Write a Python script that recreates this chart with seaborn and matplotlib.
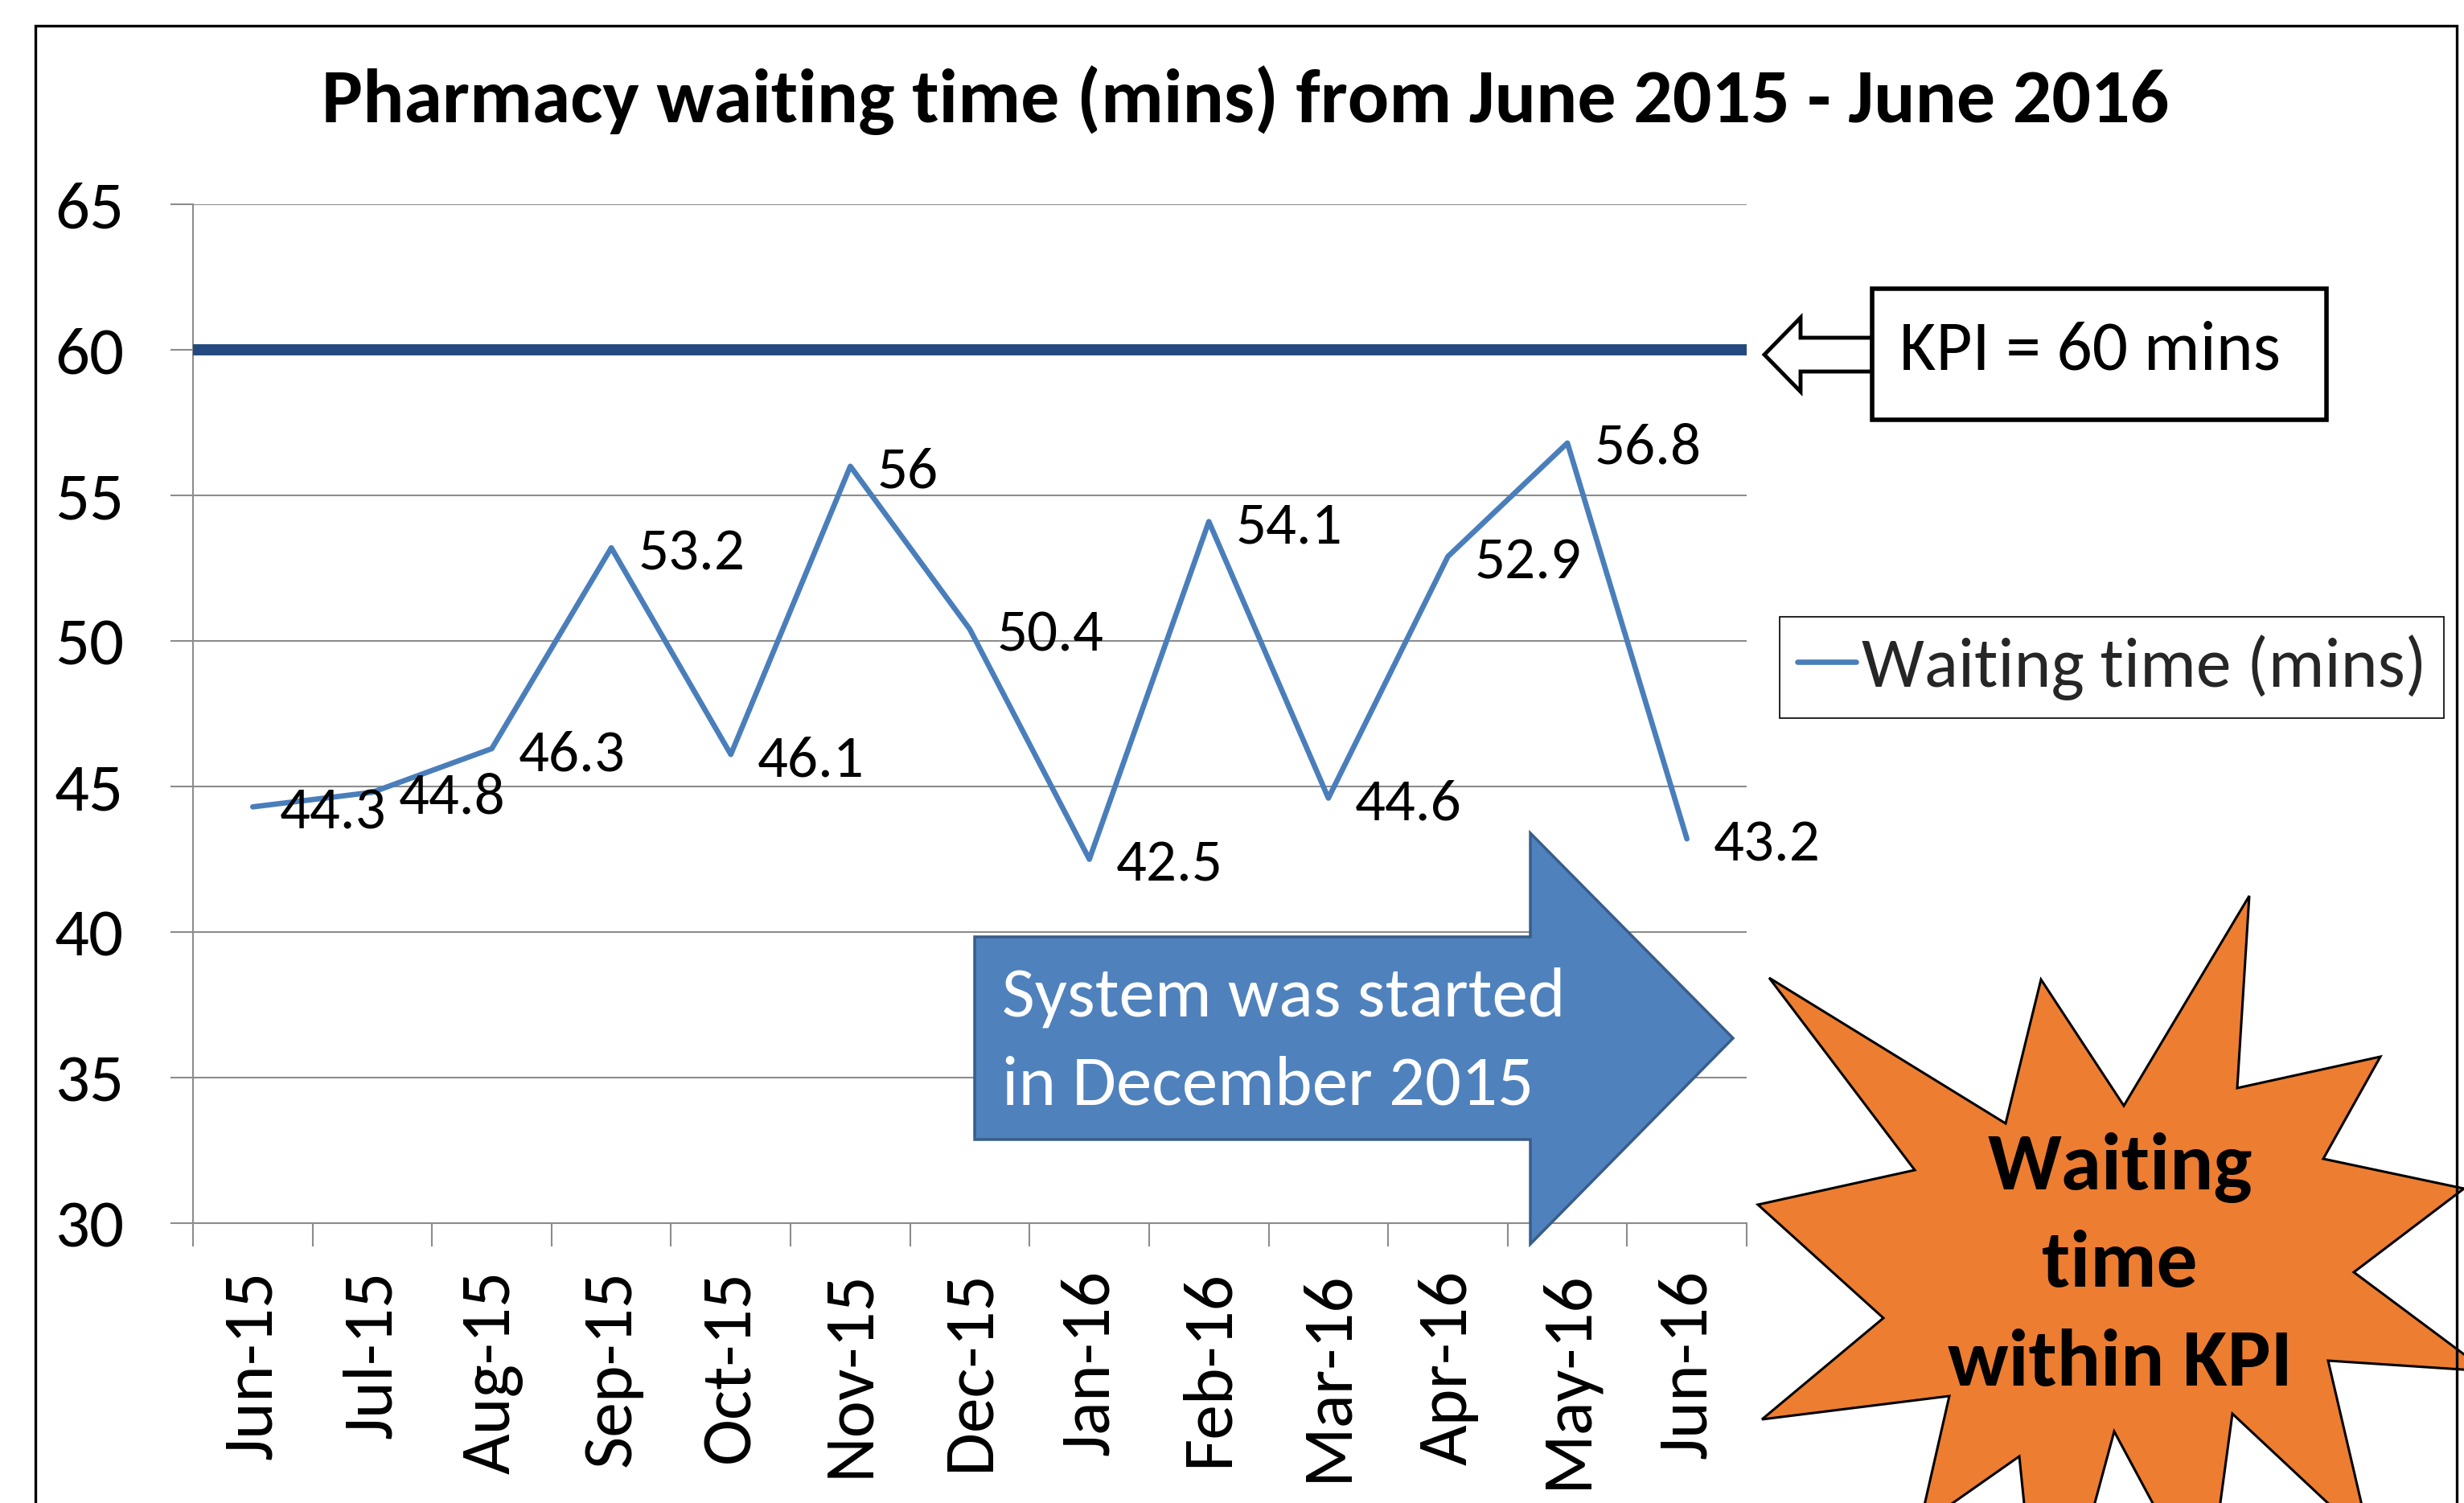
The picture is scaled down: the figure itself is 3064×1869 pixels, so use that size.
import numpy as np
import pandas as pd
import matplotlib
matplotlib.use("Agg")
import matplotlib.pyplot as plt
from matplotlib import font_manager
from matplotlib.patches import Polygon, Rectangle
import seaborn as sns

# chart data
months = ["Jun-15", "Jul-15", "Aug-15", "Sep-15", "Oct-15", "Nov-15", "Dec-15",
          "Jan-16", "Feb-16", "Mar-16", "Apr-16", "May-16", "Jun-16"]
waiting = [44.3, 44.8, 46.3, 53.2, 46.1, 56.0, 50.4, 42.5, 54.1, 44.6, 52.9, 56.8, 43.2]
value_labels = ["44.3", "44.8", "46.3", "53.2", "46.1", "56", "50.4",
                "42.5", "54.1", "44.6", "52.9", "56.8", "43.2"]
kpi = 60
y_ticks = [30, 35, 40, 45, 50, 55, 60, 65]

title = "Pharmacy waiting time (mins) from June 2015 - June 2016"
series_name = "Waiting time (mins)"

sns.set_theme(style="white")
avail = {f.name for f in font_manager.fontManager.ttflist}
font = "Carlito" if "Carlito" in avail else "Lato"
plt.rcParams["font.family"] = [font, "DejaVu Sans"]

W, H = 3064, 1869
fig = plt.figure(figsize=(W / 100, H / 100), dpi=100)
fig.patch.set_facecolor("white")


def fx(px):
    return px / W


def fy(py):
    return 1 - py / H


def fig_xy(pts):
    return [(fx(x), fy(y)) for x, y in pts]


ax = fig.add_axes([fx(240), fy(1521), fx(2172) - fx(240), fy(254) - fy(1521)])

df = pd.DataFrame({"month": months, "wait": waiting})
sns.lineplot(data=df, x="month", y="wait", ax=ax, color="#4A7EBB",
             linewidth=4.8, sort=False, legend=False, zorder=4)
line = ax.lines[0]

ax.axhline(kpi, color="#24497E", lw=10, zorder=3)

ax.set_xlim(-0.5, len(months) - 0.5)
ax.set_ylim(30, 65)
ax.set_xlabel("")
ax.set_ylabel("")

grid_col = "#8C8C8C"
ax.set_yticks(y_ticks)
ax.yaxis.grid(True, color=grid_col, lw=1.5)
ax.xaxis.grid(False)
for s in ["top", "right"]:
    ax.spines[s].set_visible(False)
for s in ["left", "bottom"]:
    ax.spines[s].set_color(grid_col)
    ax.spines[s].set_linewidth(1.5)

ax.tick_params(axis="y", left=True, direction="out", length=20, width=1.5,
               color=grid_col, pad=42, labelsize=61, labelcolor="black")

ax.set_xticks(np.arange(-0.5, len(months), 1))
ax.set_xticklabels([])
ax.set_xticks(np.arange(len(months)), minor=True)
ax.set_xticklabels(months, minor=True, rotation=90)
ax.tick_params(axis="x", which="major", bottom=True, direction="out", length=21,
               width=1.5, color=grid_col)
ax.tick_params(axis="x", which="minor", bottom=True, length=0, pad=42,
               labelsize=63, labelcolor="black")

for i, (v, lab) in enumerate(zip(waiting, value_labels)):
    ax.annotate(lab, xy=(i, v), xytext=(24, -19.5), textcoords="offset points",
                ha="left", va="baseline", fontsize=54, color="black", zorder=5)

fig.text(fx(1549), fy(152), title, ha="center", va="baseline",
         fontsize=69, fontweight="bold", color="black")

# KPI callout
kpi_arrow = [(2194, 441), (2239, 395), (2239, 420), (2328, 420),
             (2328, 462), (2239, 462), (2239, 487)]
fig.add_artist(Polygon(fig_xy(kpi_arrow), closed=True, transform=fig.transFigure,
                       facecolor="white", edgecolor="black", lw=3.5, zorder=6))
fig.add_artist(Rectangle((fx(2328), fy(522)), fx(2893) - fx(2328), fy(359) - fy(522),
                         transform=fig.transFigure, facecolor="white",
                         edgecolor="black", lw=4, zorder=7))
fig.text(fx(2362), fy(460), f"KPI = {kpi} mins", ha="left", va="baseline",
         fontsize=63, color="black", zorder=8)

# legend
leg = fig.legend(handles=[line], labels=[series_name], loc="center",
                 bbox_to_anchor=(fx(2626), fy(830)), frameon=True, fancybox=False,
                 edgecolor="black", framealpha=1, fontsize=63, handlelength=0.84,
                 handletextpad=0.08, borderpad=0.25)
leg.get_frame().set_linewidth(1.2)

# blue block arrow
block = [(1212, 1165), (1903, 1165), (1903, 1036), (2155, 1291),
         (1903, 1547), (1903, 1417), (1212, 1417)]
fig.add_artist(Polygon(fig_xy(block), closed=True, transform=fig.transFigure,
                       facecolor="#4F81BD", edgecolor="#385D8A", lw=2.5, zorder=6))
fig.text(fx(1246), fy(1264), "System was started", ha="left", va="baseline",
         fontsize=64, color="white", zorder=7)
fig.text(fx(1246), fy(1373), "in December 2015", ha="left", va="baseline",
         fontsize=64, color="white", zorder=7)

# orange starburst
star = [(2200, 1216), (2494, 1397), (2538, 1218), (2641, 1375), (2797, 1114),
        (2782, 1353), (2960, 1314), (2889, 1441), (3064, 1478), (2927, 1582),
        (3092, 1705), (2895, 1692), (2948, 1919), (2776, 1758), (2744, 1994),
        (2629, 1780), (2541, 2105), (2511, 1811), (2387, 1898), (2424, 1736),
        (2191, 1765), (2342, 1639), (2186, 1498), (2381, 1455)]
fig.add_artist(Polygon(fig_xy(star), closed=True, transform=fig.transFigure,
                       facecolor="#ED7D31", edgecolor="black", lw=2.2, zorder=6))
for txt, base in [("Waiting", 1479), ("time", 1600), ("within KPI", 1723)]:
    fig.text(fx(2636), fy(base), txt, ha="center", va="baseline", fontsize=73,
             fontweight="bold", color="black", zorder=7)

# outer frame
fig.add_artist(Rectangle((fx(44), fy(2000)), fx(3055) - fx(44), fy(32) - fy(2000),
                         transform=fig.transFigure, fill=False, edgecolor="black",
                         lw=2.4, zorder=10))

fig.savefig("out.png", dpi=100)
